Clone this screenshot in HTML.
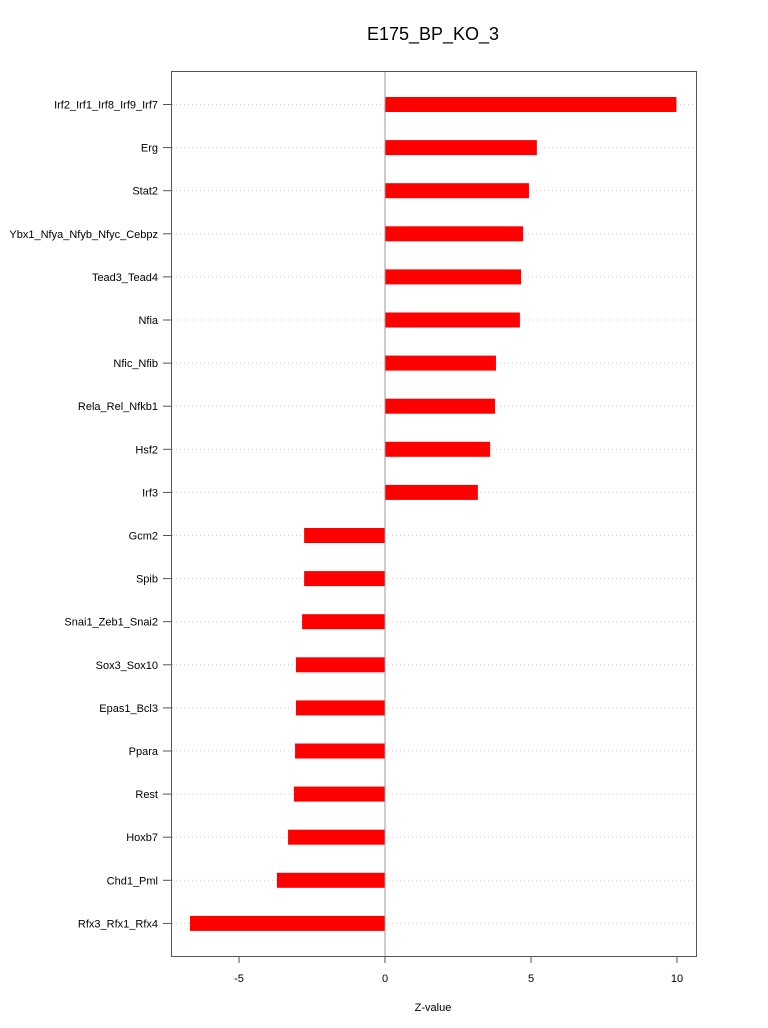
<!DOCTYPE html>
<html><head><meta charset="utf-8"><style>
body{margin:0;background:#fff;}
svg{display:block;font-family:"Liberation Sans",sans-serif;}
</style></head><body>
<svg id="chart" width="768" height="1028" xmlns="http://www.w3.org/2000/svg">
<text x="433" y="40" font-size="18" text-anchor="middle">E175_BP_KO_3</text>
<rect x="171.5" y="71.5" width="525" height="885" fill="none" stroke="#555" stroke-width="1"/>
<text x="433" y="1011" font-size="11" text-anchor="middle">Z-value</text>
<g id="g"></g>
</svg>
<script>
const categories=["Irf2_Irf1_Irf8_Irf9_Irf7","Erg","Stat2","Ybx1_Nfya_Nfyb_Nfyc_Cebpz","Tead3_Tead4","Nfia","Nfic_Nfib","Rela_Rel_Nfkb1","Hsf2","Irf3","Gcm2","Spib","Snai1_Zeb1_Snai2","Sox3_Sox10","Epas1_Bcl3","Ppara","Rest","Hoxb7","Chd1_Pml","Rfx3_Rfx1_Rfx4"];
const values=[9.98,5.2,4.93,4.73,4.66,4.62,3.8,3.77,3.6,3.18,-2.77,-2.77,-2.84,-3.05,-3.05,-3.08,-3.12,-3.32,-3.7,-6.68];
const ticks=[-5,0,5,10];
const NS="http://www.w3.org/2000/svg";
const g=document.getElementById('g');
const x=v=>385+v*29.2;
const y=i=>104.5+i*43.1;
function mk(t,a){const e=document.createElementNS(NS,t);for(const k in a)e.setAttribute(k,a[k]);g.appendChild(e);return e;}
categories.forEach((c,i)=>{
  let l=mk('line',{x1:172,x2:696,y1:y(i),y2:y(i),stroke:'#ccc','stroke-dasharray':'1,3'});
  
  
  let tk=mk('line',{x1:163,x2:171,y1:y(i),y2:y(i),stroke:'#555'});
  
  
  let t=mk('text',{x:158,y:y(i)+4,'font-size':11,'text-anchor':'end'});
  t.textContent=c;
  
  
});
values.forEach((v,i)=>{
  let r=mk('rect',{x:Math.min(x(0),x(v)),y:y(i)-7.5,width:Math.abs(x(v)-x(0)),height:15,fill:'#ff0000'});
  
  
});
let z=mk('line',{x1:x(0),x2:x(0),y1:72,y2:956,stroke:'#999','stroke-width':1});


ticks.forEach(v=>{
  let tk=mk('line',{x1:x(v),x2:x(v),y1:956,y2:963,stroke:'#555'});
  
  
  let t=mk('text',{x:x(v),y:982,'font-size':11,'text-anchor':'middle'});
  t.textContent=v;
  
  
});
</script>
</body></html>
